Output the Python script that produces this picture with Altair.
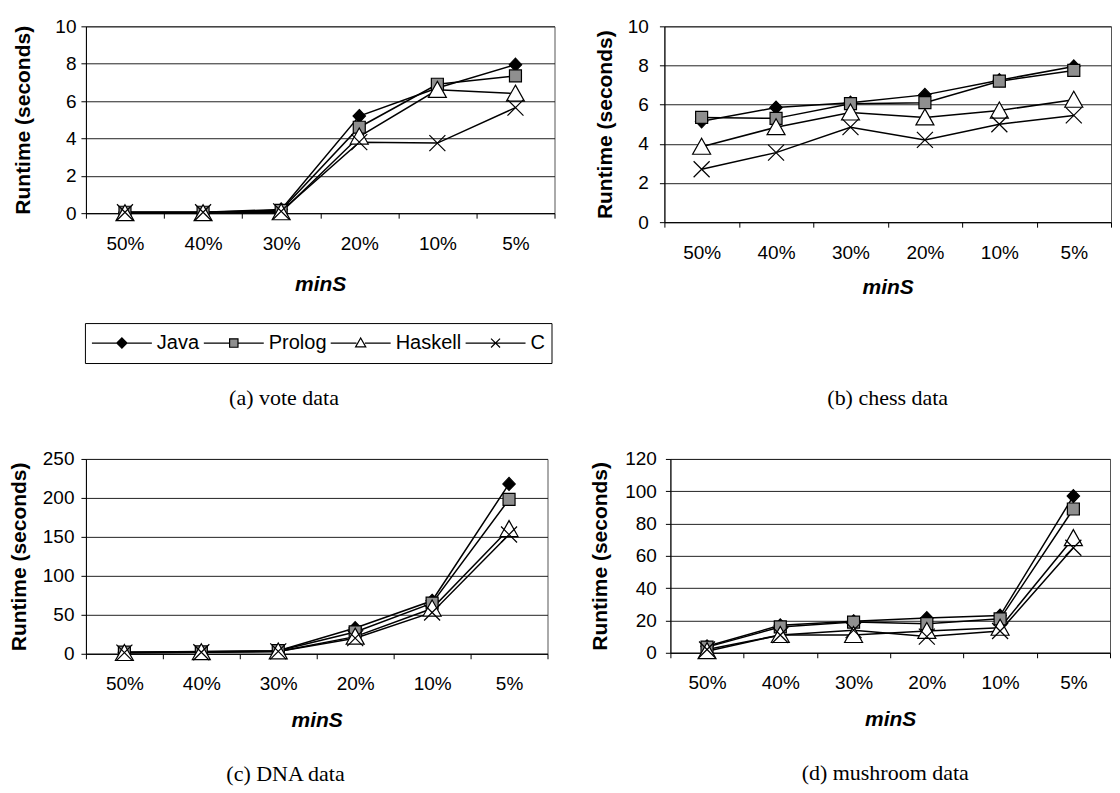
import altair as alt
import pandas as pd

categories = ["50%", "40%", "30%", "20%", "10%", "5%"]
series_names = ["Java", "Prolog", "Haskell", "C"]

vote_java = [0.05, 0.05, 0.2, 5.2, 6.7, 7.95]
vote_prolog = [0.05, 0.05, 0.15, 4.6, 6.9, 7.35]
vote_haskell = [0.0, 0.0, 0.05, 4.1, 6.6, 6.4]
vote_c = [0.05, 0.05, 0.1, 3.8, 3.75, 5.65]

chess_java = [5.15, 5.85, 6.1, 6.5, 7.25, 7.95]
chess_prolog = [5.35, 5.3, 6.05, 6.1, 7.2, 7.75]
chess_haskell = [3.85, 4.85, 5.6, 5.35, 5.7, 6.25]
chess_c = [2.7, 3.55, 4.85, 4.2, 5.0, 5.45]

dna_java = [2, 3, 4, 33, 68, 218]
dna_prolog = [2, 2.5, 4, 28, 65, 198]
dna_haskell = [1, 2, 3, 22, 58, 160]
dna_c = [1.5, 2, 3, 20, 53, 153]

mush_java = [4, 17, 19.5, 21.5, 23, 97]
mush_prolog = [3.5, 16, 19, 18, 21, 89]
mush_haskell = [1, 11, 11, 13.5, 15.5, 71]
mush_c = [2, 11, 14, 10, 13.5, 65]

# marker styles (unit path scaled by sqrt(size)/2)
MARK_SHAPES = [
    "M0,-0.65L0.62,0L0,0.65L-0.62,0Z",
    "M-0.6,-0.6L0.6,-0.6L0.6,0.6L-0.6,0.6Z",
    "M0,-0.85L0.9,0.75L-0.9,0.75Z",
    "M-0.8,-0.8L0.8,0.8M-0.8,0.8L0.8,-0.8",
]
MARK_FILLS = ["black", "#8f8f8f", "white", "transparent"]
LEGEND_SHAPES = [
    "M-1,0L1,0M0,-0.17L0.17,0L0,0.17L-0.17,0Z",
    "M-1,0L-0.14,0M0.14,0L1,0M-0.14,-0.14L0.14,-0.14L0.14,0.14L-0.14,0.14Z",
    "M-1,0L-0.14,0M0.14,0L1,0M0,-0.17L0.17,0.13L-0.17,0.13Z",
    "M-1,0L1,0M-0.15,-0.15L0.15,0.15M-0.15,0.15L0.15,-0.15",
]


def long_df(j, p, h, c):
    rows = []
    for name, vals in zip(series_names, [j, p, h, c]):
        for i, (cat, v) in enumerate(zip(categories, vals)):
            rows.append({"series": name, "minS": cat, "idx": i, "runtime": v})
    return pd.DataFrame(rows)


def panel(df, ymax, ystep, w, h, title_x, ylab_pad, xtitle_pad, caption,
          cap_offset, cap_frame, cap_dx, with_legend=False):
    x = alt.X("minS:N", sort=categories,
              scale=alt.Scale(type="band", paddingInner=0, paddingOuter=0),
              axis=alt.Axis(title="minS", labelAngle=0, tickBand="extent",
                            tickSize=5, labelPadding=16, titlePadding=xtitle_pad,
                            titleFontStyle="italic", titleFontWeight="bold",
                            titleFontSize=21, grid=False))
    y = alt.Y("runtime:Q", scale=alt.Scale(domain=[0, ymax], nice=False, zero=True),
              axis=alt.Axis(title="Runtime (seconds)",
                            values=list(range(0, ymax + 1, ystep)),
                            tickSize=5, labelPadding=ylab_pad, grid=True,
                            titleX=title_x, titleBaseline="middle",
                            titleFontWeight="bold", titleFontSize=21))
    base = alt.Chart(df)
    lines = base.mark_line(color="black", strokeWidth=1.5).encode(
        x=x, y=y, detail="series:N", order="idx:Q")
    pts = base.mark_point(size=400, filled=True, opacity=1, stroke="black",
                          strokeWidth=1.2).encode(
        x=x, y=y,
        shape=alt.Shape("series:N", scale=alt.Scale(domain=series_names, range=MARK_SHAPES), legend=None),
        fill=alt.Fill("series:N", scale=alt.Scale(domain=series_names, range=MARK_FILLS), legend=None),
    )
    layers = [lines, pts]
    if with_legend:
        leg = alt.Legend(orient="none", legendX=-1, legendY=297, direction="horizontal",
                         columns=4, title=None, strokeColor="black", padding=6,
                         clipHeight=28, labelFont="Liberation Sans", labelFontSize=20,
                         labelColor="black", labelOffset=4, columnPadding=3,
                         symbolStrokeWidth=1.2, symbolSize=3600, symbolOpacity=1)
        legl = base.transform_filter("false").mark_point(
            size=3600, filled=True, opacity=1, strokeWidth=1.2).encode(
            x=x, y=y,
            shape=alt.Shape("series:N", scale=alt.Scale(domain=series_names, range=LEGEND_SHAPES), legend=leg),
            fill=alt.Fill("series:N", scale=alt.Scale(domain=series_names, range=MARK_FILLS), legend=leg),
            stroke=alt.Stroke("series:N", scale=alt.Scale(domain=series_names, range=["black"] * 4), legend=leg),
        )
        layers.append(legl)
    ch = alt.layer(*layers)
    if with_legend:
        ch = ch.resolve_scale(shape="independent", fill="independent", stroke="independent")
    return ch.properties(
        width=w, height=h,
        title=alt.TitleParams(caption, orient="bottom", anchor="middle",
                              font="Liberation Serif", fontSize=22,
                              fontWeight="normal", color="black",
                              offset=cap_offset, frame=cap_frame, dx=cap_dx))


pa = panel(long_df(vote_java, vote_prolog, vote_haskell, vote_c), 10, 2, 469, 187,
           -62, 5, 20, "(a) vote data", 25, "bounds", 0, with_legend=True)
pb = panel(long_df(chess_java, chess_prolog, chess_haskell, chess_c), 10, 2, 447, 196,
           -59, 11, 14, "(b) chess data", 91, "group", 0)
pc = panel(long_df(dna_java, dna_prolog, dna_haskell, dna_c), 250, 50, 462, 195,
           -66, 7, 16, "(c) DNA data", 33, "bounds", 7)
pd_ = panel(long_df(mush_java, mush_prolog, mush_haskell, mush_c), 120, 20, 440, 194,
            -70, 9, 16, "(d) mushroom data", 33, "group", -5)

row1 = alt.hconcat(pa, pb, spacing=110, bounds="flush")
row2 = alt.hconcat(pc, pd_, spacing=123, bounds="flush")

chart = alt.vconcat(row1, row2, spacing=39).properties(
    padding={"left": 0, "top": 8, "right": 0, "bottom": 0},
    background="white",
).configure_view(stroke="#555", strokeWidth=1).configure_axis(
    labelFont="Liberation Sans", labelFontSize=19, labelColor="black",
    titleFont="Liberation Sans", titleColor="black",
    domainColor="black", tickColor="black", gridColor="#222", gridWidth=1,
)

chart.save("out.html", embed_options={"renderer": "svg", "actions": False})
